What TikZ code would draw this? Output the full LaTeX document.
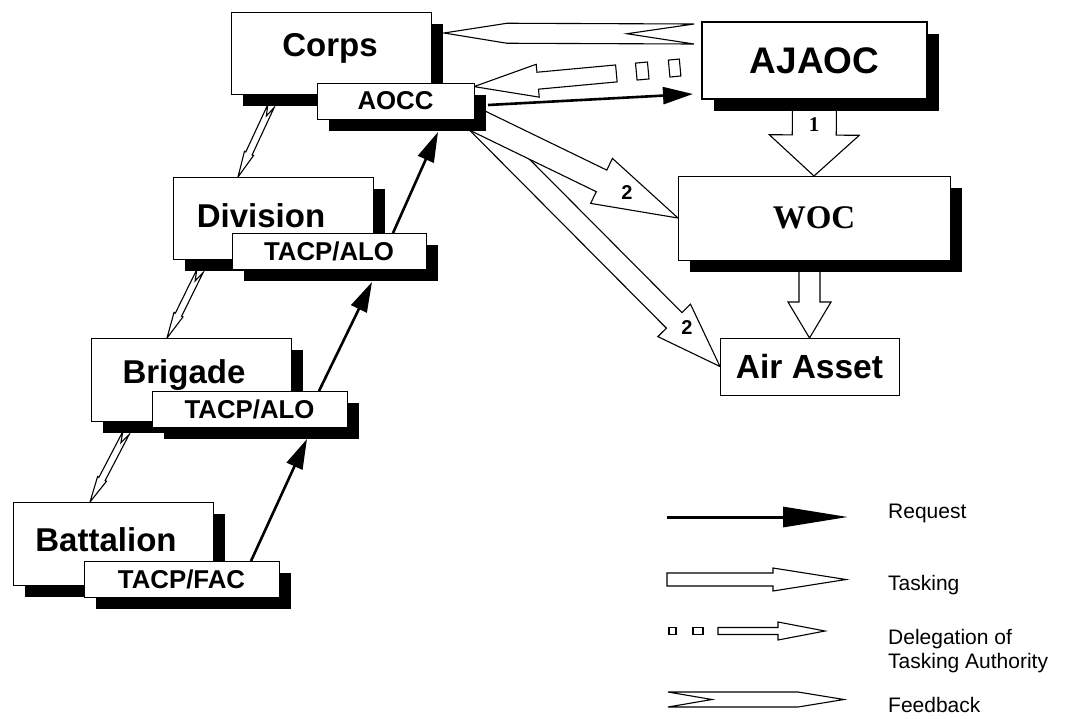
\documentclass[tikz,border=0pt]{standalone}
\usepackage{fontspec}
\setmainfont{Liberation Sans}
\newfontfamily\timesfont{Liberation Serif}
\usetikzlibrary{arrows.meta,calc,shadows,backgrounds}

% hollow block arrow: tail, tip, shaft half width, head half width, head length
\newcommand{\taskarrow}[5]{%
  \coordinate (hb) at ($(#2)!#5!(#1)$);
  \draw[blockarr] ($(#1)!#3!90:(#2)$) -- ($(hb)!#3!-90:(#1)$) -- ($(hb)!#4!-90:(#1)$)
    -- (#2) -- ($(hb)!#4!90:(#1)$) -- ($(hb)!#3!90:(#1)$) -- ($(#1)!#3!-90:(#2)$) -- cycle;
}
% swallow-tail arrow: tail, tip, shaft half width, head half width, taper, notch
\newcommand{\feedarrow}[6]{%
  \coordinate (fb) at ($(#2)!#5!(#1)$);
  \draw[blockarr] ($(#1)!#3!90:(#2)$) -- ($(fb)!#3!-90:(#1)$) -- ($(fb)!#4!-90:(#1)$)
    -- (#2) -- ($(fb)!#4!90:(#1)$) -- ($(fb)!#3!90:(#1)$) -- ($(#1)!#3!-90:(#2)$)
    -- ($(#1)!#6!(#2)$) -- cycle;
}
% one dash of a broken shaft: line from, line to, start, end, half width
\newcommand{\dashpiece}[5]{%
  \coordinate (db1) at ($(#1)!#3!(#2)$);
  \coordinate (db2) at ($(#1)!#4!(#2)$);
  \draw[blockarr] ($(db1)!#5!90:(#2)$) -- ($(db2)!#5!-90:(#1)$) -- ($(db2)!#5!90:(#1)$)
    -- ($(db1)!#5!-90:(#2)$) -- cycle;
}

\begin{document}
\begin{tikzpicture}[
    x=1pt, y=-1pt,
    box/.style={draw, line width=0.9pt, fill=white, anchor=north west,
        inner sep=0pt, outer sep=0pt},
    shadowed/.style={drop shadow={shadow xshift=12pt, shadow yshift=-12pt,
        fill=black, opacity=1}},
    lvlbox/.style={box, shadowed, minimum width=200pt, minimum height=82pt},
    subbox/.style={box, shadowed, minimum height=36pt,
        font=\bfseries\fontsize{25.8}{30}\selectfont},
    lvltext/.style={anchor=base, inner sep=0pt,
        font=\bfseries\fontsize{33}{38}\selectfont},
    req/.style={-{Triangle[length=30pt,width=17pt]}, line width=2.6pt},
    blockarr/.style={draw=black, fill=white, line width=1.1pt, line join=miter},
    numlbl/.style={inner sep=0pt, font=\bfseries\fontsize{20}{24}\selectfont},
    legtext/.style={anchor=base west, inner sep=0pt, align=left,
        font=\fontsize{21}{24}\selectfont}
]
    \useasboundingbox (0,0) rectangle (1071,718);

    % army side
    \node[lvlbox] (corps) at (231,12) {};
    \node[lvltext] (corps-t) at (330,56.7) {Corps};
    \node[subbox, minimum width=157pt] (aocc) at (317,83) {AOCC};

    \node[lvlbox] (division) at (173,177) {};
    \node[lvltext] (division-t) at (261,227) {Division};
    \node[subbox, minimum width=194pt] (divtacp) at (232,233) {TACP/ALO};

    \node[lvlbox, minimum height=83pt] (brigade) at (91,338) {};
    \node[lvltext] (brigade-t) at (184,383) {Brigade};
    \node[subbox, minimum width=195pt] (brigtacp) at (152,391) {TACP/ALO};

    \node[lvlbox, minimum height=83pt] (battalion) at (13,502) {};
    \node[lvltext] (battalion-t) at (106,551) {Battalion};
    \node[subbox, minimum width=195pt] (battacp) at (84,561) {TACP/FAC};

    % air side
    \node[lvlbox, line width=2.6pt, minimum width=225pt, minimum height=77pt,
        font=\bfseries\fontsize{37}{40}\selectfont] (ajaoc) at (702,22) {AJAOC};
    \node[lvlbox, minimum width=272pt, minimum height=84pt,
        font=\timesfont\bfseries\fontsize{33}{36}\selectfont] (woc) at (678,176) {WOC};
    \node[box, minimum width=179pt, minimum height=57pt,
        font=\bfseries\fontsize{33.5}{36}\selectfont] (asset) at (720,338) {Air Asset};

    \begin{scope}[on background layer]
        % tasking
        \taskarrow{ajaoc.south}{woc.north}{22pt}{45pt}{41pt}
        \coordinate (wa) at (asset.north |- woc.south);
        \taskarrow{wa}{asset.north}{10.5pt}{21.5pt}{36pt}
        \taskarrow{aocc.south east}{asset.west}{11pt}{23pt}{65pt}
        \taskarrow{aocc.south east}{woc.west}{12pt}{25pt}{85pt}

        % delegation
        \coordinate (dg-a) at ([yshift=-5pt]ajaoc.west);
        \coordinate (dg-b) at ($(aocc.north east)!0.1!(aocc.south east)$);
        \coordinate (dg-s) at ($(dg-a)!86pt!(dg-b)$);
        \dashpiece{dg-a}{dg-b}{22pt}{33pt}{8.5pt}
        \dashpiece{dg-a}{dg-b}{54pt}{66pt}{8.5pt}
        \taskarrow{dg-s}{dg-b}{8.5pt}{16.5pt}{64pt}

        % feedback
        \coordinate (fb-a) at ([xshift=-8pt,yshift=-12pt]ajaoc.north west);
        \coordinate (fb-b) at ([xshift=13pt,yshift=-21pt]corps.north east);
        \feedarrow{fb-a}{fb-b}{10pt}{10pt}{63pt}{67pt}

        \coordinate (f1a) at ([xshift=40pt,yshift=-12pt]corps.south west);
        \coordinate (f1b) at ([xshift=65pt]division.north west);
        \feedarrow{f1a}{f1b}{3.5pt}{5pt}{26pt}{11pt}
        \coordinate (f2a) at ([xshift=27pt,yshift=-12pt]division.south west);
        \coordinate (f2b) at ([xshift=76pt]brigade.north west);
        \feedarrow{f2a}{f2b}{3.5pt}{5pt}{26pt}{11pt}
        \coordinate (f3a) at ([xshift=35pt,yshift=-12pt]brigade.south west);
        \coordinate (f3b) at ([xshift=77pt]battalion.north west);
        \feedarrow{f3a}{f3b}{3.5pt}{5pt}{26pt}{11pt}
    \end{scope}

    \node[numlbl, font=\timesfont\bfseries\fontsize{21}{24}\selectfont] (one) at (814,125) {1};
    \node[numlbl] (two-woc) at (627,193) {2};
    \node[numlbl] (two-asset) at (687,328) {2};

    % requests
    \draw[req] ([xshift=167pt]battacp.north west) -- ([xshift=155pt,yshift=-12pt]brigtacp.south west);
    \draw[req] ([xshift=167pt]brigtacp.north west) -- ([xshift=140pt,yshift=-13pt]divtacp.south west);
    \draw[req] ([xshift=161pt]divtacp.north west) -- ([xshift=121pt,yshift=-13pt]aocc.south west);
    \draw[req] ([xshift=14pt,yshift=-22pt]aocc.north east) -- ([xshift=-9pt,yshift=5pt]ajaoc.south west);

    % legend
    \coordinate (lg-req-a) at (667,517);
    \coordinate (lg-req-b) at (848,517);
    \draw[req, line width=3pt, -{Triangle[length=65pt,width=20pt]}] (lg-req-a) -- (lg-req-b);
    \node[legtext] (lg-req-t) at (888,518) {Request};

    \coordinate (lg-task-a) at (667,579.5);
    \coordinate (lg-task-b) at (846,579.5);
    \taskarrow{lg-task-a}{lg-task-b}{6.5pt}{11.5pt}{73pt}
    \node[legtext] (lg-task-t) at (888,590) {Tasking};

    \coordinate (lg-dg-a) at (669,631);
    \coordinate (lg-dg-b) at (825,631);
    \coordinate (lg-dg-s) at ($(lg-dg-a)!49pt!(lg-dg-b)$);
    \dashpiece{lg-dg-a}{lg-dg-b}{0pt}{7pt}{3.5pt}
    \dashpiece{lg-dg-a}{lg-dg-b}{24pt}{34pt}{3.5pt}
    \taskarrow{lg-dg-s}{lg-dg-b}{3.5pt}{9pt}{47pt}
    \node[legtext, anchor=north west] (lg-dg-t) at (888,629) {Delegation of\\Tasking Authority};

    \coordinate (lg-fb-a) at (668,699.5);
    \coordinate (lg-fb-b) at (844,699.5);
    \feedarrow{lg-fb-a}{lg-fb-b}{7.5pt}{7.5pt}{46pt}{44pt}
    \node[legtext] (lg-fb-t) at (888,712) {Feedback};
\end{tikzpicture}
\end{document}
